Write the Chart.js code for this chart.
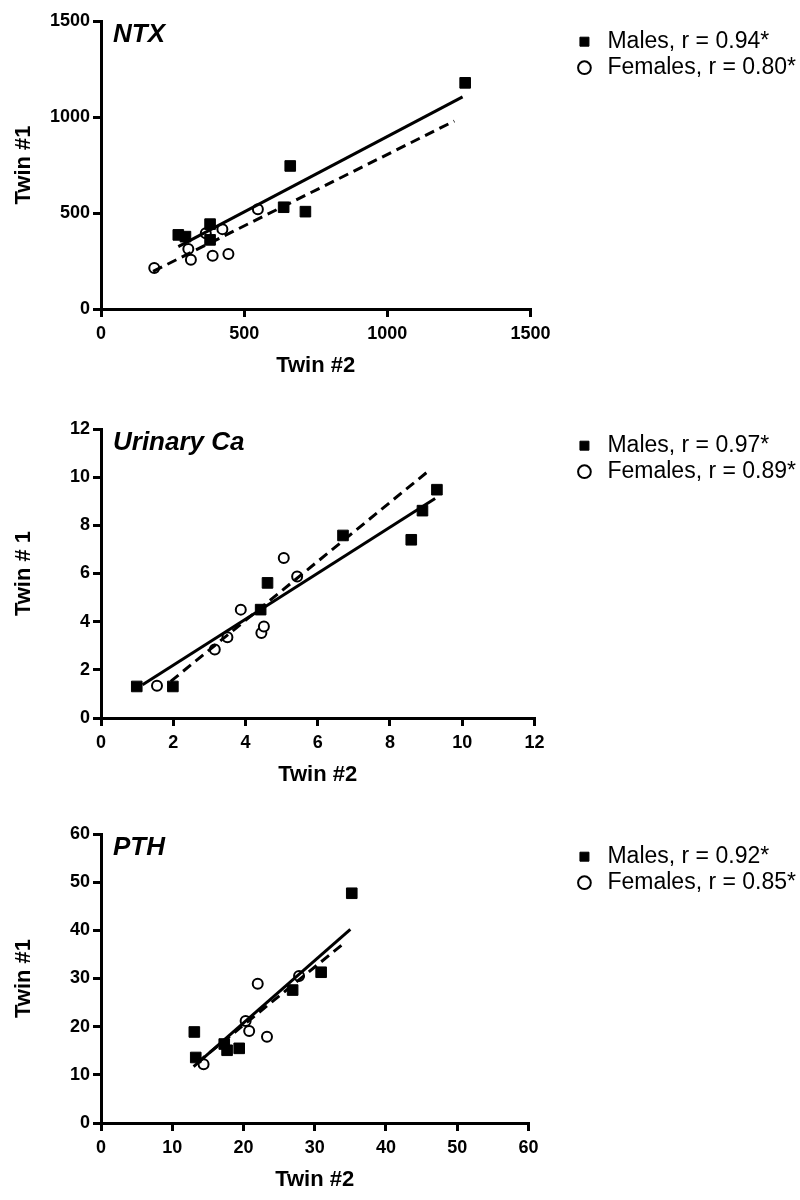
<!DOCTYPE html>
<html>
<head>
<meta charset="utf-8">
<script src="https://cdn.jsdelivr.net/npm/chart.js@4.4.0/dist/chart.umd.min.js"></script>
<style>
  html, body { margin: 0; padding: 0; background: #fff; }
  .panel { position: absolute; left: 0; width: 800px; height: 400px; }
</style>
</head>
<body>
<div class="panel" style="top:0px"><canvas id="ntxChart"></canvas></div>
<div class="panel" style="top:400px"><canvas id="caChart"></canvas></div>
<div class="panel" style="top:800px"><canvas id="pthChart"></canvas></div>
<script>
// NTX
const ntxMaleX = [270, 295, 381, 381, 638, 661, 714, 1272];
const ntxMaleY = [386, 377, 442, 360, 530, 745, 507, 1178];
const ntxFemaleX = [186, 305, 314, 366, 390, 424, 445, 548];
const ntxFemaleY = [213, 313, 256, 395, 277, 416, 286, 520];
const ntxMaleFitX = [270, 1263];
const ntxMaleFitY = [325, 1105];
const ntxFemaleFitX = [182, 1234];
const ntxFemaleFitY = [196, 979];

// Urinary Ca
const caMaleX = [0.99, 1.99, 4.42, 4.61, 6.70, 8.59, 8.90, 9.30];
const caMaleY = [1.31, 1.31, 4.50, 5.61, 7.58, 7.40, 8.61, 9.48];
const caFemaleX = [1.55, 3.15, 3.50, 3.87, 4.44, 4.51, 5.06, 5.43];
const caFemaleY = [1.34, 2.84, 3.35, 4.50, 3.53, 3.80, 6.64, 5.88];
const caMaleFitX = [1.15, 9.25];
const caMaleFitY = [1.38, 9.11];
const caFemaleFitX = [1.93, 9.02];
const caFemaleFitY = [1.52, 10.2];

// PTH
const pthMaleX = [13.1, 13.3, 17.3, 17.7, 19.4, 26.9, 30.9, 35.2];
const pthMaleY = [18.9, 13.6, 16.4, 15.1, 15.5, 27.6, 31.3, 47.7];
const pthFemaleX = [14.4, 20.3, 20.8, 22.0, 23.3, 27.8];
const pthFemaleY = [12.2, 21.2, 19.1, 28.9, 17.9, 30.5];
const pthMaleFitX = [13.0, 35.0];
const pthMaleFitY = [11.7, 40.2];
const pthFemaleFitX = [13.5, 34.0];
const pthFemaleFitY = [12.5, 37.2];

const FONT = '"Liberation Sans", Arial, sans-serif';

function toPoints(xs, ys) {
  return xs.map((x, i) => ({ x: x, y: ys[i] }));
}

// italic panel name inside the plot, top left
const panelTitle = {
  id: 'panelTitle',
  afterDraw(chart, args, opts) {
    const ctx = chart.ctx;
    ctx.save();
    ctx.font = 'italic bold 26px ' + FONT;
    ctx.fillStyle = '#000';
    ctx.textBaseline = 'alphabetic';
    ctx.fillText(opts.text, chart.chartArea.left + 12, chart.chartArea.top + 21);
    ctx.restore();
  }
};

function makePanel(id, p) {
  const ctx = document.getElementById(id).getContext('2d');
  return new Chart(ctx, {
    type: 'scatter',
    data: {
      datasets: [
        {
          label: p.maleLabel,
          data: toPoints(p.maleX, p.maleY),
          pointStyle: 'rect',
          pointRadius: 7.5,
          backgroundColor: '#000',
          borderColor: '#000',
          borderWidth: 1,
          order: 1
        },
        {
          label: p.femaleLabel,
          data: toPoints(p.femaleX, p.femaleY),
          pointStyle: 'circle',
          pointRadius: 5,
          backgroundColor: '#fff',
          borderColor: '#000',
          borderWidth: 2,
          order: 2
        },
        {
          label: '',
          data: toPoints(p.maleFitX, p.maleFitY),
          showLine: true,
          pointRadius: 0,
          borderColor: '#000',
          borderWidth: 3,
          order: 0
        },
        {
          label: '',
          data: toPoints(p.femaleFitX, p.femaleFitY),
          showLine: true,
          pointRadius: 0,
          borderColor: '#000',
          borderWidth: 3,
          borderDash: [10, 6],
          order: 0
        }
      ]
    },
    options: {
      responsive: true,
      maintainAspectRatio: false,
      animation: false,
      layout: { padding: { top: p.padTop, bottom: p.padBottom, left: 0, right: -6 } },
      plugins: {
        tooltip: { enabled: false },
        panelTitle: { text: p.title },
        legend: {
          position: 'right',
          align: 'start',
          maxWidth: 300,
          title: { display: true, text: '', font: { size: 1 }, padding: { top: p.legendTop, bottom: 0 } },
          labels: {
            usePointStyle: true,
            boxWidth: 23,
            boxHeight: 9,
            padding: 3,
            color: '#000',
            font: { family: FONT, size: 23 },
            filter: (item) => item.text !== ''
          }
        }
      },
      scales: {
        x: {
          type: 'linear',
          min: p.xMin, max: p.xMax,
          afterFit: (s) => { s.height = 72; },
          border: { display: true, color: '#000', width: 3 },
          grid: { display: true, drawOnChartArea: false, drawTicks: true, tickLength: 8, lineWidth: 3, color: '#000' },
          ticks: { stepSize: p.xStep, padding: 6, color: '#000', font: { family: FONT, size: 18, weight: 'bold' },
                   callback: (v) => String(v) },
          title: { display: true, text: 'Twin #2', color: '#000', font: { family: FONT, size: 22, weight: 'bold' }, padding: { top: 0, bottom: 2 } }
        },
        y: {
          type: 'linear',
          min: p.yMin, max: p.yMax,
          afterFit: (s) => { s.width = 101; },
          border: { display: true, color: '#000', width: 3 },
          grid: { display: true, drawOnChartArea: false, drawTicks: true, tickLength: 8, lineWidth: 3, color: '#000' },
          ticks: { stepSize: p.yStep, padding: 3, color: '#000', font: { family: FONT, size: 18, weight: 'bold' },
                   callback: (v) => String(v) },
          title: { display: true, text: p.yTitle, color: '#000', font: { family: FONT, size: 22, weight: 'bold' }, padding: { top: 11, bottom: 0 } }
        },
        gap: {
          type: 'linear',
          position: 'right',
          display: true,
          afterFit: (s) => { s.width = p.gap; },
          grid: { display: false },
          border: { display: false },
          ticks: { display: false }
        }
      }
    },
    plugins: [panelTitle]
  });
}

makePanel('ntxChart', {
  title: 'NTX', yTitle: 'Twin #1',
  maleLabel: 'Males, r = 0.94*', femaleLabel: 'Females, r = 0.80*',
  maleX: ntxMaleX, maleY: ntxMaleY, femaleX: ntxFemaleX, femaleY: ntxFemaleY,
  maleFitX: ntxMaleFitX, maleFitY: ntxMaleFitY, femaleFitX: ntxFemaleFitX, femaleFitY: ntxFemaleFitY,
  xMin: 0, xMax: 1500, xStep: 500, yMin: 0, yMax: 1500, yStep: 500,
  padTop: 21, padBottom: 19, legendTop: 5, gap: 39.5
});

makePanel('caChart', {
  title: 'Urinary Ca', yTitle: 'Twin # 1',
  maleLabel: 'Males, r = 0.97*', femaleLabel: 'Females, r = 0.89*',
  maleX: caMaleX, maleY: caMaleY, femaleX: caFemaleX, femaleY: caFemaleY,
  maleFitX: caMaleFitX, maleFitY: caMaleFitY, femaleFitX: caFemaleFitX, femaleFitY: caFemaleFitY,
  xMin: 0, xMax: 12, xStep: 2, yMin: 0, yMax: 12, yStep: 2,
  padTop: 29, padBottom: 10, legendTop: 1, gap: 35.5
});

makePanel('pthChart', {
  title: 'PTH', yTitle: 'Twin #1',
  maleLabel: 'Males, r = 0.92*', femaleLabel: 'Females, r = 0.85*',
  maleX: pthMaleX, maleY: pthMaleY, femaleX: pthFemaleX, femaleY: pthFemaleY,
  maleFitX: pthMaleFitX, maleFitY: pthMaleFitY, femaleFitX: pthFemaleFitX, femaleFitY: pthFemaleFitY,
  xMin: 0, xMax: 60, xStep: 10, yMin: 0, yMax: 60, yStep: 10,
  padTop: 34, padBottom: 5, legendTop: 7, gap: 41.5
});
</script>
</body>
</html>
